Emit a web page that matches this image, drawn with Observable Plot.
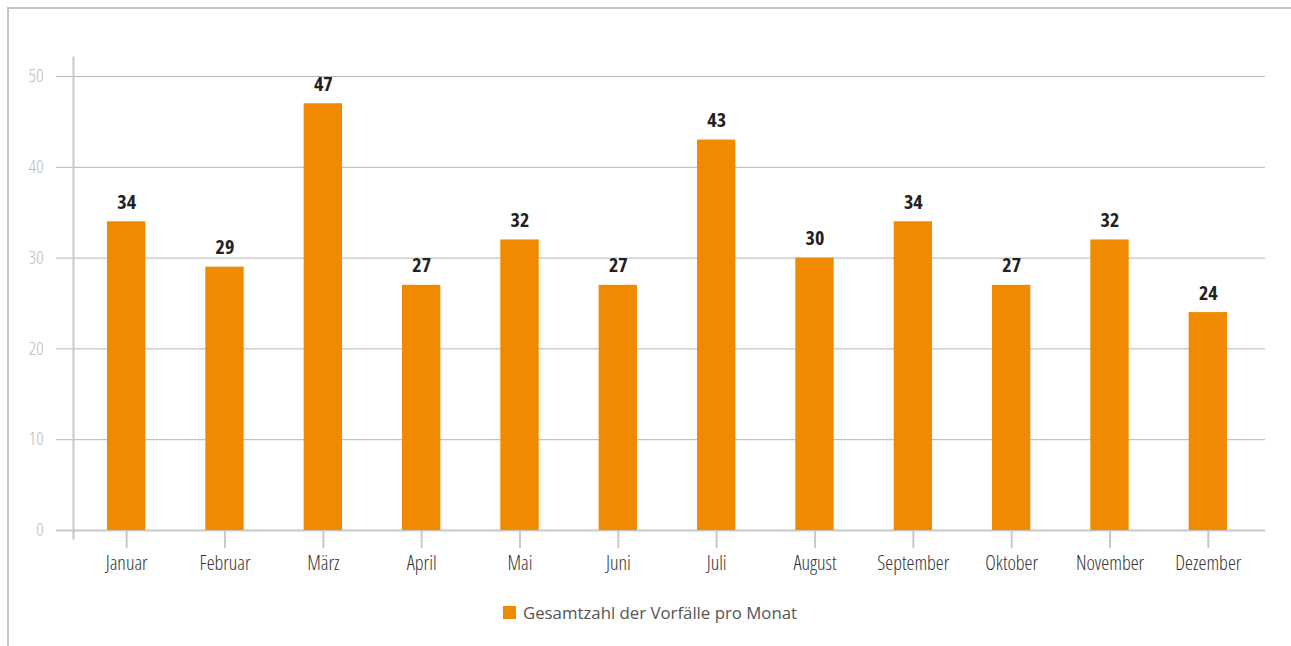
<!DOCTYPE html>
<html>
<head>
<meta charset="utf-8">
<script src="https://cdn.jsdelivr.net/npm/d3@7"></script>
<script src="https://cdn.jsdelivr.net/npm/@observablehq/plot@0.6"></script>
<style>
  html, body { margin: 0; padding: 0; background: #fff; width: 1291px; height: 646px; overflow: hidden; }
  #frame { position: absolute; left: 7px; top: 7px; width: 1284px; height: 639px;
           border-top: 2px solid #c4c4c4; border-left: 2px solid #c4c4c4; box-sizing: border-box; }
  #chart { position: absolute; left: 0; top: 0; font-stretch: 75%; }
  #chart svg text { font-stretch: 75%; }
  #legend { position: absolute; top: 601px; left: 503px; display: flex; align-items: center;
            font-family: "Open Sans", "Noto Sans", sans-serif; font-size: 16.8px; color: #555; }
  #legend .sw { width: 13px; height: 13px; background: #f08a00; margin-right: 7px; }
</style>
</head>
<body>
<div id="frame"></div>
<div id="chart"></div>
<div id="legend"><div class="sw"></div><span id="legendText"></span></div>
<script>
const months = ["Januar","Februar","März","April","Mai","Juni","Juli","August","September","Oktober","November","Dezember"];
const values = [34, 29, 47, 27, 32, 27, 43, 30, 34, 27, 32, 24];
const yTicks = [0, 10, 20, 30, 40, 50];
const seriesName = "Gesamtzahl der Vorfälle pro Monat";

document.getElementById("legendText").textContent = seriesName;
const data = months.map((m, i) => ({month: m, value: values[i]}));
const font = '"Open Sans", sans-serif';

const chart = Plot.plot({
  width: 1291,
  height: 590,
  marginTop: 57,
  marginBottom: 52,
  marginLeft: 56,
  marginRight: 26,
  style: {fontFamily: font, background: "transparent", overflow: "visible"},
  x: {domain: months, paddingInner: 0.61, paddingOuter: 0.305, insetLeft: 21, insetRight: 8, round: false, label: null},
  y: {domain: [0, 50], range: [530, 76], label: null},
  marks: [
    Plot.ruleY(yTicks.filter(d => d > 0), {stroke: "#b4b4b4", strokeWidth: 1}),
    Plot.ruleY([0], {stroke: "#c8c8c8", strokeWidth: 2}),
    Plot.frame({anchor: "left", dx: 17, stroke: "#c8c8c8", strokeWidth: 2, strokeOpacity: 1}),
    Plot.barY(data, {x: "month", y: "value", fill: "#f08a00"}),
    Plot.text(data, {x: "month", y: "value", text: d => String(d.value), dy: -13, lineAnchor: "bottom",
      fontSize: 20, fontWeight: "bold", fill: "#222"}),
    Plot.axisY({ticks: yTicks, tickSize: 0, tickPadding: 13, fontSize: 18, fontWeight: 300, color: "#b8b8b8", label: null}),
    Plot.axisX({tickSize: 18, dy: -8, tickPadding: 7, fontSize: 20, fontWeight: 300, color: "#333", stroke: "#c8c8c8", strokeWidth: 2, label: null})
  ]
});
document.getElementById("chart").appendChild(chart);
</script>
</body>
</html>
